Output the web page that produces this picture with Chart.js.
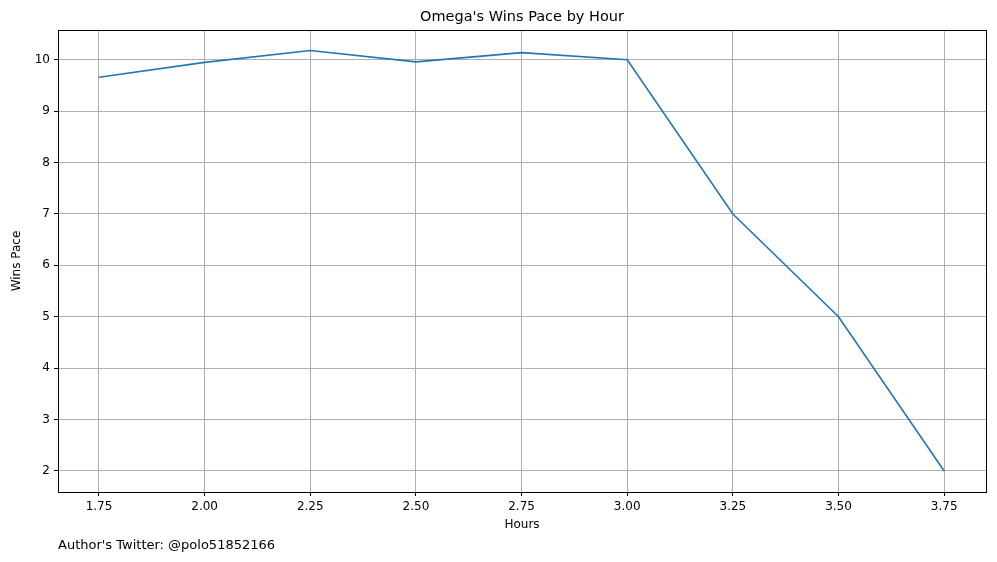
<!DOCTYPE html>
<html>
<head>
<meta charset="utf-8">
<script src="https://cdn.jsdelivr.net/npm/chart.js@4"></script>
<style>
  body { margin: 0; background: #fff; font-family: "DejaVu Sans", sans-serif; }
  #wrap { position: relative; width: 997px; height: 562px; }
  #title { position: absolute; top: 8px; left: 0; width: 1044px; text-align: center; font-size: 14.5px; color: #000; }
  #author { position: absolute; left: 58px; top: 537px; font-size: 13px; color: #000; }
</style>
</head>
<body>
<div id="wrap">
  <canvas id="myChart" width="997" height="562"></canvas>
  <div id="title">Omega's Wins Pace by Hour</div>
  <div id="author">Author's Twitter: @polo51852166</div>
</div>
<script>
const hours = [1.75, 2.00, 2.25, 2.50, 2.75, 3.00, 3.25, 3.50, 3.75];
const winsPace = [9.66, 9.95, 10.18, 9.96, 10.14, 10.0, 7.0, 5.0, 2.0];

const ctx = document.getElementById('myChart');
Chart.defaults.font.family = '"DejaVu Sans", sans-serif';
Chart.defaults.color = '#000';

new Chart(ctx, {
    type: 'line',
    data: {
        datasets: [{
            label: 'Wins Pace',
            data: hours.map((h, i) => ({ x: h, y: winsPace[i] })),
            borderColor: '#1f77b4',
            borderWidth: 1.6,
            pointRadius: 0,
            tension: 0
        }]
    },
    options: {
        responsive: false,
        animation: false,
        layout: { padding: { top: 30, right: 11, left: 6, bottom: 26 } },
        plugins: { legend: { display: false }, tooltip: { enabled: false } },
        scales: {
            x: {
                type: 'linear',
                min: 1.653,
                max: 3.849,
                afterFit: s => { s.height = 44; },
                afterBuildTicks: s => { s.ticks = hours.map(v => ({ value: v })); },
                ticks: { font: { size: 12 }, callback: v => v.toFixed(2), padding: 4, maxRotation: 0 },
                grid: { color: '#b0b0b0', tickColor: '#000', tickLength: 4 },
                border: { color: '#000' },
                title: { display: true, text: 'Hours', font: { size: 12 }, padding: { top: 2 } }
            },
            y: {
                min: 1.59,
                max: 10.58,
                afterFit: s => { s.width = 52; },
                afterBuildTicks: s => { s.ticks = [2, 3, 4, 5, 6, 7, 8, 9, 10].map(v => ({ value: v })); },
                ticks: { font: { size: 12 }, padding: 4 },
                grid: { color: '#b0b0b0', tickColor: '#000', tickLength: 4 },
                border: { color: '#000' },
                title: { display: true, text: 'Wins Pace', font: { size: 12 }, padding: { bottom: 4 } }
            }
        }
    },
    plugins: [{
        id: 'frame',
        afterDraw(chart) {
            const a = chart.chartArea, c = chart.ctx;
            c.save();
            c.strokeStyle = '#000';
            c.lineWidth = 1;
            c.strokeRect(a.left + 0.5, a.top + 0.5, a.right - a.left, a.bottom - a.top);
            c.restore();
        }
    }]
});
</script>
</body>
</html>
